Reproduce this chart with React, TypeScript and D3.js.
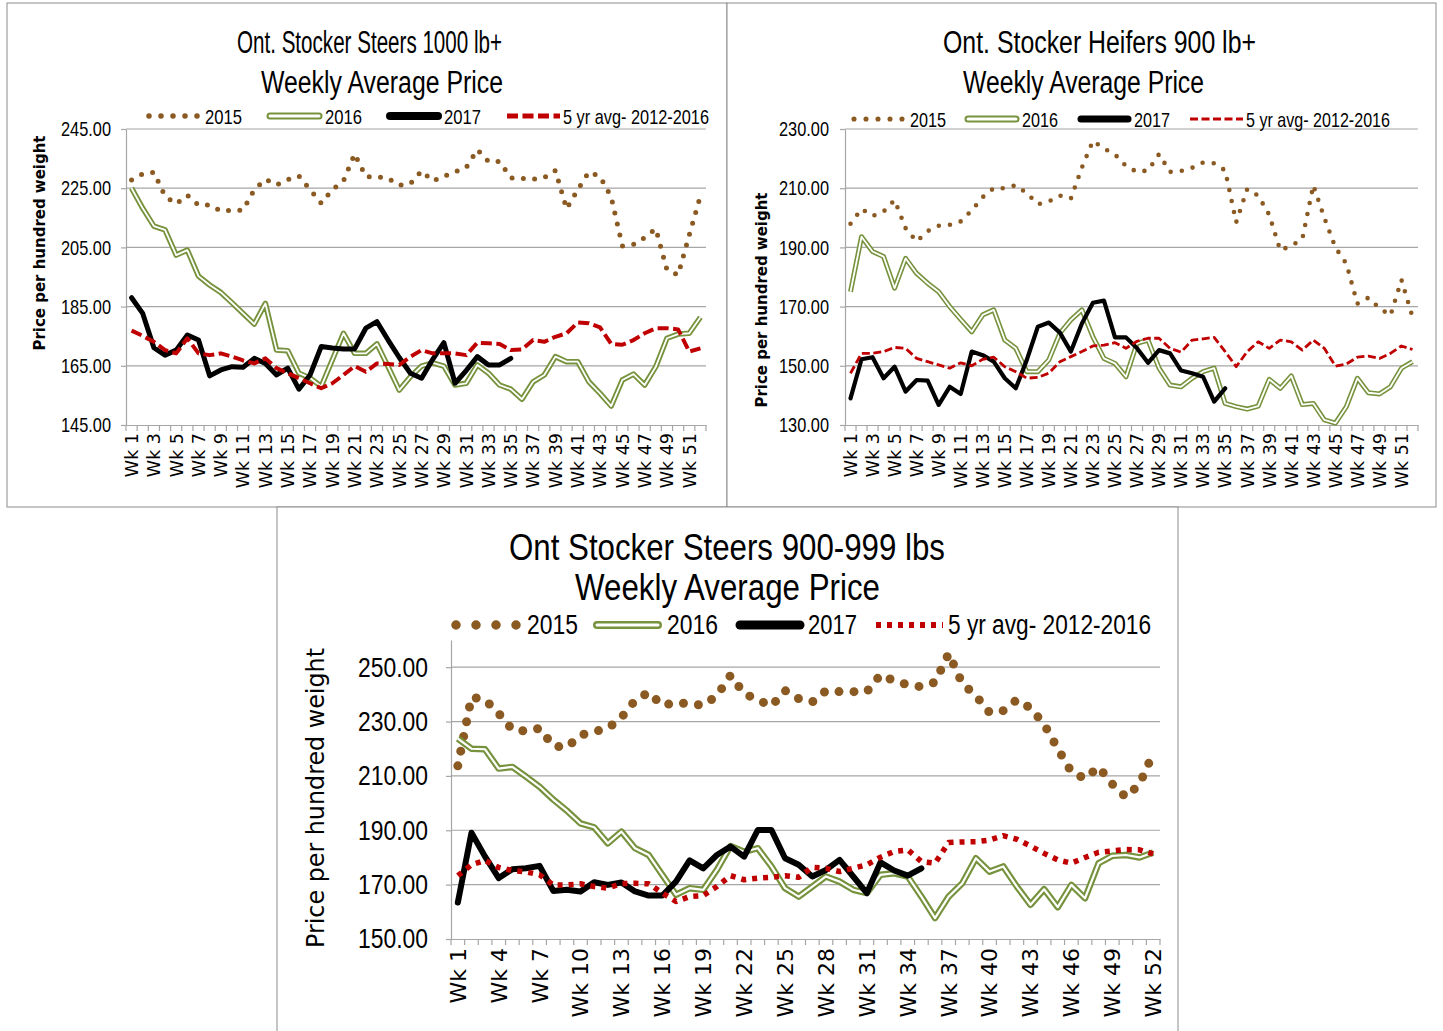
import React, { useEffect, useRef } from 'react';
import * as d3 from 'd3';

// Category labels shared by all three charts
const weeks = d3.range(1, 53).map(n => `Wk ${n}`);
const legendLabels = ['2015', '2016', '2017', '5 yr avg- 2012-2016'];

// Ont. Stocker Steers 1000 lb+
const steers1000_2015 = [227.8, 229.8, 230.4, 222.3, 219.7, 222.6, 219.3, 219.3, 217.3, 217.5, 217.6, 224.5, 228, 226.1, 227.9, 229.1, 224.5, 219.9, 224.5, 227.5, 236.6, 228.9, 228.9, 228.3, 226, 226.5, 230.8, 227.4, 229, 230.5, 232, 238, 234, 234, 228.5, 228.3, 228, 228.6, 231, 218, 224.5, 230.5, 229, 222, 205.5, 206, 208.3, 211.3, 197.4, 195.7, 209.2, 222.4];
const steers1000_2016 = [225, 218.2, 212.2, 210.9, 202.4, 204.1, 195.3, 192.3, 189.8, 186.3, 182.7, 179.1, 186.1, 170.3, 170.1, 162.5, 160.9, 158, 167, 176, 169.2, 169.2, 172.4, 164.7, 156.8, 161.3, 164.9, 166, 164.9, 158.5, 159.1, 165.3, 162.5, 158.5, 157.1, 153.7, 159.6, 161.9, 168.1, 166.4, 166.4, 159.6, 155.7, 151.4, 160.2, 162.2, 158.5, 164.7, 174.3, 175.7, 176, 181.4];
const steers1000_2017 = [188, 182.7, 171.1, 168.6, 170.3, 175.4, 173.7, 161.6, 163.6, 164.7, 164.5, 167.5, 165.8, 161.9, 164.2, 157.1, 161.9, 171.5, 171, 170.7, 170.7, 177.7, 179.9, 173.7, 167.8, 162.5, 160.8, 167.2, 172.8, 159.1, 163.4, 168.1, 165.3, 165.3, 167.5];
const steers1000_avg = [176.9, 175.1, 173.1, 170.3, 169.2, 174.3, 169.2, 168.6, 169.2, 168.1, 166.8, 165.8, 167.5, 164.2, 162.5, 160.8, 159.1, 157.4, 159.1, 161.9, 164.9, 163, 165.8, 165.6, 165.3, 168.1, 170.3, 169.2, 169.2, 169.2, 168.6, 172.8, 172.6, 172.4, 170.3, 170.5, 173.7, 173.1, 174.8, 176, 179.6, 179.4, 178, 172.4, 172.1, 173.7, 176, 177.7, 177.7, 177.3, 169.8, 170.9];

// Ont. Stocker Heifers 900 lb+
const heifers_2015 = [198, 203, 200.6, 202.1, 206, 196.5, 192, 195.5, 197.3, 197.6, 198.8, 202.5, 207, 210, 210, 211, 208.3, 204.6, 205.5, 207.5, 206.5, 217, 226, 223.4, 221.4, 217.5, 215.5, 216, 221.5, 215.5, 215.8, 216.9, 218.7, 218.4, 216, 198.5, 209.7, 207.5, 201, 189, 190.6, 192.8, 211, 200, 190, 184.5, 171, 173, 169.5, 167, 179, 166.5];
const heifers_2016 = [175, 193.6, 188.6, 186.9, 176.2, 186.3, 181.2, 177.9, 175, 170, 165.7, 161.5, 167.2, 168.9, 158.7, 155.9, 148, 148, 152, 161, 165.5, 168.9, 159.8, 152.5, 150.8, 146.3, 157.6, 158.7, 149.2, 143.5, 142.9, 145.8, 148, 149.2, 137.3, 136.2, 135.4, 136.4, 145.4, 142.4, 146.6, 136.9, 137.3, 131.7, 130.6, 136.2, 145.8, 140.9, 140.5, 142.9, 149.2, 151.4];
const heifers_2017 = [139, 152.2, 152.9, 145.8, 149.7, 141.3, 145.2, 145, 136.8, 142.9, 140.5, 154.8, 153.6, 151.4, 145.8, 142.4, 152, 163.2, 164.6, 161.2, 154.8, 164.3, 171.3, 172, 159.6, 159.6, 155.9, 151, 155.3, 154.2, 148.4, 147.5, 146.3, 137.9, 142.4];
const heifers_avg = [147.5, 154.2, 154.2, 154.8, 156.2, 155.9, 152.5, 151.4, 150.3, 149.2, 151, 150, 152.2, 152.9, 149.7, 148, 145.8, 146.1, 147.5, 151.4, 153.1, 154.8, 156.7, 157, 157.8, 155.9, 158.3, 159.3, 159.3, 155.9, 154.6, 158.7, 159.1, 159.6, 154.8, 149.7, 154.8, 158.1, 155.9, 158.7, 158.1, 155.3, 158.7, 155.9, 149.9, 150.6, 152.9, 153.3, 152.5, 154.2, 156.7, 155.5];

// Ont Stocker Steers 900-999 lbs
const steers900_2015 = [213.7, 239, 238, 233, 227, 226.5, 227.5, 221, 220.5, 225, 226.3, 227.5, 231.5, 237.8, 240.7, 235.9, 237, 236.5, 236, 239.5, 247, 240.3, 238, 235.7, 241.4, 238.4, 237.2, 241.3, 241, 241, 241, 247.2, 245, 243.5, 242.8, 244.5, 255, 244, 239.5, 233.3, 234, 238, 235, 229, 220, 211.5, 209, 213.3, 207, 202.2, 207, 218.3];
const steers900_2016 = [223.7, 220, 219.8, 212.7, 213.3, 209.7, 206, 201.3, 197.2, 192.5, 191.1, 185.2, 189.5, 183.4, 180.9, 173.6, 166.3, 168.7, 168.1, 175.4, 184.2, 182.1, 183.4, 176.7, 168.7, 165.6, 169.3, 173, 171.1, 168.1, 166.9, 173.6, 174.2, 173, 165.6, 157.7, 165.6, 170.5, 179.7, 174.8, 176.7, 169.3, 162.6, 168.3, 161.7, 169.9, 165, 177.9, 180.6, 180.9, 180, 181.8];
const steers900_2017 = [163.4, 189.1, 180.3, 172.4, 175.7, 176, 176.9, 167.7, 168.1, 167.5, 170.9, 169.9, 170.8, 167.5, 166, 166, 171.1, 178.9, 176, 180.9, 184, 180.3, 190.1, 190.1, 179.7, 177.3, 173, 175.4, 179.1, 173, 166.9, 178.2, 175.2, 173.3, 176];
const steers900_avg = [173.3, 177.3, 178.9, 176.3, 175.2, 174.7, 173.6, 169.9, 169.9, 170.3, 169.3, 168.7, 170.4, 170.5, 170.3, 166.9, 163.8, 165.6, 166, 169.3, 173.3, 171.8, 172.4, 172.7, 173.3, 172.7, 176.4, 176, 174.8, 176, 177.3, 180.1, 182.2, 182.8, 178.5, 177.9, 185.5, 185.7, 185.8, 186.4, 188, 186.7, 184.2, 181.5, 179.1, 177.9, 180, 181.9, 182.4, 182.9, 182.8, 181.3];

const BROWN = '#8b5a22';
const GREEN = '#76923c';
const RED = '#c00000';
const GRID = '#a6a6a6';
const FRAME = '#8c8c8c';
const NARROW = "'Liberation Sans Narrow', 'Liberation Sans', Arial, sans-serif";
const WIDE = "'DejaVu Sans', Verdana, sans-serif";

interface ChartSpec {
  frame: [number, number, number, number];
  plot: { left: number; right: number; top: number; bottom: number };
  yDomain: [number, number];
  yTicks: number[];
  tickFont: number;
  tickLen: number;
  tickPad: number;
  xStep: number;
  xFont: number;
  xGap: number;
  titleFont: number;
  title: { text: string; cx: number; y: number; len: number }[];
  legendY: number;
  legendFont: number;
  legend: { x0: number; x1: number; tx: number; len: number }[];
  yTitle: { cx: number; cy: number; len: number; font: number; weight: string };
  style: {
    dotW: number; dotGap: number; legDotGap: number;
    outerW: number; innerW: number; legOuter: number; legInner: number;
    w17: number; leg17: number;
    avgW: number; avgDash: string; avgCap: string; legAvgW: number;
  };
  series: number[][];
}

const PriceChart: React.FC<{ spec: ChartSpec }> = ({ spec }) => {
  const ref = useRef<SVGGElement | null>(null);

  useEffect(() => {
    if (!ref.current) return;
    const g = d3.select(ref.current);
    g.selectAll('*').remove();

    const { left, right, top, bottom } = spec.plot;
    const st = spec.style;
    const x = d3.scaleBand<string>().domain(weeks).range([left, right]).padding(0);
    const cx = (i: number) => (x(weeks[i]) ?? 0) + x.bandwidth() / 2;
    const y = d3.scaleLinear().domain(spec.yDomain).range([bottom, top]);

    // panel frame
    const [fx, fy, fw, fh] = spec.frame;
    g.append('rect')
      .attr('x', fx).attr('y', fy).attr('width', fw).attr('height', fh)
      .attr('fill', '#fff').attr('stroke', FRAME).attr('stroke-width', 1);

    // gridlines
    g.append('g').selectAll('line')
      .data(spec.yTicks.filter(t => t !== spec.yDomain[0]))
      .join('line')
      .attr('x1', left).attr('x2', right)
      .attr('y1', d => y(d)).attr('y2', d => y(d))
      .attr('stroke', GRID).attr('stroke-width', 1.2);

    // y axis
    const yAxis = g.append('g')
      .attr('transform', `translate(${left},0)`)
      .call(d3.axisLeft(y).tickValues(spec.yTicks).tickFormat(d3.format('.2f'))
        .tickSize(5).tickSizeOuter(0).tickPadding(spec.tickPad));
    yAxis.select('.domain').attr('stroke', GRID).attr('stroke-width', 1.2);
    yAxis.selectAll('.tick line').attr('stroke', GRID).attr('stroke-width', 1.2);
    yAxis.selectAll('text')
      .attr('font-family', NARROW).attr('font-size', spec.tickFont).attr('fill', '#000')
      .attr('textLength', spec.tickLen).attr('lengthAdjust', 'spacingAndGlyphs');

    // x axis: labels from the band scale, tick marks on category edges
    const xAxis = g.append('g')
      .attr('transform', `translate(0,${bottom})`)
      .call(d3.axisBottom(x).tickValues(weeks.filter((_, i) => i % spec.xStep === 0))
        .tickSize(0).tickSizeOuter(0));
    xAxis.select('.domain').attr('stroke', GRID).attr('stroke-width', 1.2);
    xAxis.selectAll('text')
      .attr('transform', 'rotate(-90)')
      .attr('text-anchor', 'end')
      .attr('x', -spec.xGap).attr('y', 0).attr('dy', '0.36em')
      .attr('font-family', WIDE).attr('font-size', spec.xFont).attr('fill', '#000');

    const edges = weeks.map(w => x(w) ?? 0).concat(x.range()[1]);
    g.append('g').selectAll('line').data(edges).join('line')
      .attr('x1', d => d).attr('x2', d => d)
      .attr('y1', bottom).attr('y2', bottom + 6)
      .attr('stroke', GRID).attr('stroke-width', 1.2);

    // series
    const line = d3.line<number>().x((_, i) => cx(i)).y(d => y(d));
    const [s15, s16, s17, sAvg] = spec.series;
    const plot = g.append('g').attr('fill', 'none');

    plot.append('path').attr('d', line(s15))
      .attr('stroke', BROWN).attr('stroke-width', st.dotW)
      .attr('stroke-dasharray', `0 ${st.dotGap}`).attr('stroke-linecap', 'round');
    plot.append('path').attr('d', line(s16))
      .attr('stroke', GREEN).attr('stroke-width', st.outerW).attr('stroke-linejoin', 'round');
    plot.append('path').attr('d', line(s16))
      .attr('stroke', '#fff').attr('stroke-width', st.innerW).attr('stroke-linejoin', 'round');
    plot.append('path').attr('d', line(s17))
      .attr('stroke', '#000').attr('stroke-width', st.w17)
      .attr('stroke-linejoin', 'round').attr('stroke-linecap', 'round');
    plot.append('path').attr('d', line(sAvg))
      .attr('stroke', RED).attr('stroke-width', st.avgW)
      .attr('stroke-dasharray', st.avgDash).attr('stroke-linecap', st.avgCap)
      .attr('stroke-linejoin', 'round');

    // titles
    g.append('g').selectAll('text').data(spec.title).join('text')
      .attr('x', d => d.cx).attr('y', d => d.y)
      .attr('text-anchor', 'middle')
      .attr('font-family', NARROW).attr('font-size', spec.titleFont).attr('fill', '#000')
      .attr('textLength', d => d.len).attr('lengthAdjust', 'spacingAndGlyphs')
      .text(d => d.text);

    // y axis title
    const yt = spec.yTitle;
    g.append('text')
      .attr('transform', `translate(${yt.cx},${yt.cy}) rotate(-90)`)
      .attr('text-anchor', 'middle').attr('dominant-baseline', 'central')
      .attr('font-family', WIDE).attr('font-size', yt.font).attr('font-weight', yt.weight)
      .attr('fill', '#000')
      .attr('textLength', yt.len).attr('lengthAdjust', 'spacingAndGlyphs')
      .text('Price per hundred weight');

    // legend
    const ly = spec.legendY;
    const leg = g.append('g').attr('fill', 'none');
    const [l15, l16, l17, lAvg] = spec.legend;
    leg.append('line').attr('x1', l15.x0).attr('x2', l15.x1).attr('y1', ly).attr('y2', ly)
      .attr('stroke', BROWN).attr('stroke-width', st.dotW + 0.5)
      .attr('stroke-dasharray', `0 ${st.legDotGap}`).attr('stroke-linecap', 'round');
    leg.append('line').attr('x1', l16.x0).attr('x2', l16.x1).attr('y1', ly).attr('y2', ly)
      .attr('stroke', GREEN).attr('stroke-width', st.legOuter).attr('stroke-linecap', 'round');
    leg.append('line').attr('x1', l16.x0).attr('x2', l16.x1).attr('y1', ly).attr('y2', ly)
      .attr('stroke', '#fff').attr('stroke-width', st.legInner).attr('stroke-linecap', 'round');
    leg.append('line').attr('x1', l17.x0).attr('x2', l17.x1).attr('y1', ly).attr('y2', ly)
      .attr('stroke', '#000').attr('stroke-width', st.leg17).attr('stroke-linecap', 'round');
    leg.append('line').attr('x1', lAvg.x0).attr('x2', lAvg.x1).attr('y1', ly).attr('y2', ly)
      .attr('stroke', RED).attr('stroke-width', st.legAvgW)
      .attr('stroke-dasharray', st.avgDash).attr('stroke-linecap', st.avgCap);

    g.append('g').selectAll('text').data(spec.legend).join('text')
      .attr('x', d => d.tx).attr('y', ly)
      .attr('dominant-baseline', 'central')
      .attr('font-family', NARROW).attr('font-size', spec.legendFont).attr('fill', '#000')
      .attr('textLength', d => d.len).attr('lengthAdjust', 'spacingAndGlyphs')
      .text((_, i) => legendLabels[i]);
  }, [spec]);

  return <g ref={ref} />;
};

const steers1000Spec: ChartSpec = {
  frame: [7, 3, 720, 504],
  plot: { left: 126, right: 706, top: 129, bottom: 425 },
  yDomain: [145, 245],
  yTicks: [145, 165, 185, 205, 225, 245],
  tickFont: 21, tickLen: 50, tickPad: 10,
  xStep: 2, xFont: 17.5, xGap: 8,
  titleFont: 31,
  title: [
    { text: 'Ont. Stocker Steers 1000 lb+', cx: 369.5, y: 53, len: 265 },
    { text: 'Weekly Average Price', cx: 382, y: 93, len: 242 },
  ],
  legendY: 116, legendFont: 21,
  legend: [
    { x0: 149, x1: 197.5, tx: 205, len: 37 },
    { x0: 270, x1: 319, tx: 325, len: 37 },
    { x0: 390, x1: 438, tx: 444, len: 37 },
    { x0: 507, x1: 560, tx: 563, len: 146 },
  ],
  yTitle: { cx: 40, cy: 243, len: 215, font: 15, weight: 'bold' },
  style: {
    dotW: 5, dotGap: 11.3, legDotGap: 12,
    outerW: 5.5, innerW: 1.8, legOuter: 7, legInner: 3,
    w17: 5, leg17: 8,
    avgW: 4, avgDash: '11 4.5', avgCap: 'butt', legAvgW: 5,
  },
  series: [steers1000_2015, steers1000_2016, steers1000_2017, steers1000_avg],
};

const heifersSpec: ChartSpec = {
  frame: [727, 3, 709, 504],
  plot: { left: 845, right: 1418, top: 129, bottom: 425 },
  yDomain: [130, 230],
  yTicks: [130, 150, 170, 190, 210, 230],
  tickFont: 21, tickLen: 50, tickPad: 11,
  xStep: 2, xFont: 17.5, xGap: 8,
  titleFont: 31,
  title: [
    { text: 'Ont. Stocker Heifers 900 lb+', cx: 1099.5, y: 53, len: 313 },
    { text: 'Weekly Average Price', cx: 1083.5, y: 93, len: 241 },
  ],
  legendY: 119, legendFont: 21,
  legend: [
    { x0: 854, x1: 902.5, tx: 910, len: 36 },
    { x0: 968, x1: 1016, tx: 1022, len: 36 },
    { x0: 1081, x1: 1128, tx: 1134, len: 36 },
    { x0: 1190, x1: 1243, tx: 1246, len: 144 },
  ],
  yTitle: { cx: 762, cy: 300, len: 215, font: 15, weight: 'bold' },
  style: {
    dotW: 4.6, dotGap: 11.2, legDotGap: 12,
    outerW: 5, innerW: 1.8, legOuter: 7, legInner: 3,
    w17: 4.2, leg17: 7,
    avgW: 2.8, avgDash: '8 3.5', avgCap: 'butt', legAvgW: 3,
  },
  series: [heifers_2015, heifers_2016, heifers_2017, heifers_avg],
};

const steers900Spec: ChartSpec = {
  frame: [277, 507, 901, 530],
  plot: { left: 451, right: 1160, top: 640, bottom: 939 },
  yDomain: [150, 260],
  yTicks: [150, 170, 190, 210, 230, 250],
  tickFont: 28, tickLen: 70, tickPad: 18,
  xStep: 3, xFont: 22, xGap: 9,
  titleFont: 36,
  title: [
    { text: 'Ont Stocker Steers 900-999 lbs', cx: 727, y: 560, len: 436 },
    { text: 'Weekly Average Price', cx: 727.5, y: 600, len: 305 },
  ],
  legendY: 625, legendFont: 27,
  legend: [
    { x0: 456, x1: 517, tx: 527, len: 51 },
    { x0: 597, x1: 658, tx: 667, len: 51 },
    { x0: 740, x1: 800, tx: 808, len: 49 },
    { x0: 876, x1: 943, tx: 948, len: 203 },
  ],
  yTitle: { cx: 316, cy: 798, len: 300, font: 24, weight: 'normal' },
  style: {
    dotW: 9, dotGap: 15, legDotGap: 20,
    outerW: 6.5, innerW: 2.2, legOuter: 8, legInner: 3,
    w17: 6, leg17: 9,
    avgW: 5.5, avgDash: '5 6', avgCap: 'butt', legAvgW: 6,
  },
  series: [steers900_2015, steers900_2016, steers900_2017, steers900_avg],
};

const App: React.FC = () => (
  <svg
    width={1443}
    height={1031}
    style={{ position: 'absolute', left: 0, top: 0, background: '#fff' }}
  >
    <PriceChart spec={steers1000Spec} />
    <PriceChart spec={heifersSpec} />
    <PriceChart spec={steers900Spec} />
  </svg>
);

export default App;
